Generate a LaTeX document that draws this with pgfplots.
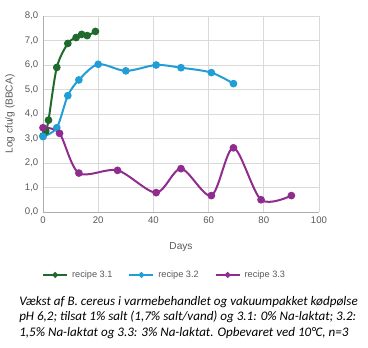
\documentclass[border=0pt]{standalone}
\usepackage{pgfplots}
\pgfplotsset{compat=1.18}
\usepackage{fontspec}
\setmainfont{Liberation Sans}
\newfontfamily\capfont{Carlito}
\definecolor{cgreen}{RGB}{31,106,44}
\definecolor{cblue}{RGB}{34,158,214}
\definecolor{cpurple}{RGB}{145,44,143}
\definecolor{tgray}{RGB}{89,89,89}
\definecolor{ggray}{RGB}{217,217,217}
\begin{document}
\begin{tikzpicture}
\useasboundingbox (-32.25pt,-101.25pt) rectangle (243.75pt,159pt);
\begin{axis}[
  at={(0,0)}, anchor=south west,
  scale only axis, width=207pt, height=147pt,
  xmin=0, xmax=100, ymin=0, ymax=8,
  xtick={0,20,...,100}, ytick={0,1,...,8},
  grid=major, major grid style={ggray, line width=0.5pt},
  axis line style={ggray!80!black, line width=0.5pt},
  axis x line*=bottom, axis y line*=left,
  major tick length=0pt,
  tick label style={font=\fontsize{7.2}{8}\selectfont, text=tgray},
  /pgf/number format/assume math mode=true,
  yticklabel={\pgfmathprintnumber[fixed, fixed zerofill, precision=1, use comma]{\tick}},
  xticklabel={\pgfmathprintnumber{\tick}},
  xlabel={Days}, ylabel={Log cfu/g (BBCA)},
  label style={font=\fontsize{7.6}{8}\selectfont, text=tgray},
  xlabel style={at={(axis description cs:0.5,0)}, anchor=base, yshift=-28pt},
  ylabel style={at={(axis description cs:-0.1196,0.5)}, anchor=center},
  legend style={at={(axis description cs:0.442,-0.321)}, anchor=center, draw=none, fill=none,
    font=\fontsize{6.9}{7.5}\selectfont, text=tgray, legend columns=3,
    /tikz/every even column/.append style={column sep=10pt},
    /tikz/every odd column/.append style={column sep=1pt}},
  legend cell align=left,
  legend image code/.code={
    \draw[#1, mark=none, line width=1.4pt] (0pt,0pt) -- (18pt,0pt);
    \draw[#1, only marks, mark size=1.3pt] plot coordinates {(9pt,0pt)};
  },
  every axis plot/.append style={line width=1.5pt, smooth, tension=0.5, mark=*, mark size=2.1pt},
  clip=false,
]
\addplot[cgreen, mark options={fill=cgreen}] coordinates {
 (0,3.1) (1,3.3) (2,3.75) (5,5.9) (9,6.88) (12,7.12) (14,7.25) (16,7.2) (19,7.37)};
\addlegendentry{recipe 3.1}
\addplot[cblue, mark options={fill=cblue}] coordinates {
 (0,3.08) (5,3.44) (9,4.75) (13,5.39) (20,6.03) (30,5.76) (41,6.0) (50,5.89) (61,5.69) (69,5.24)};
\addlegendentry{recipe 3.2}
\addplot[cpurple, mark options={fill=cpurple}] coordinates {
 (0,3.44) (6,3.21) (13,1.59) (27,1.70) (41,0.79) (50,1.77) (61,0.67) (69,2.62) (79,0.50) (90,0.67)};
\addlegendentry{recipe 3.3}
\end{axis}
\node[anchor=north west, inner sep=0pt, align=left, font=\capfont\itshape\fontsize{9.8}{11.5}\selectfont, text=black] at (-18pt,-63pt)
 {Vækst af B. cereus i varmebehandlet og vakuumpakket kødpølse\\
  pH 6,2; tilsat 1\% salt (1,7\% salt/vand) og 3.1: 0\% Na-laktat; 3.2:\\
  1,5\% Na-laktat og 3.3: 3\% Na-laktat. Opbevaret ved 10°C, n=3};
\end{tikzpicture}
\end{document}
